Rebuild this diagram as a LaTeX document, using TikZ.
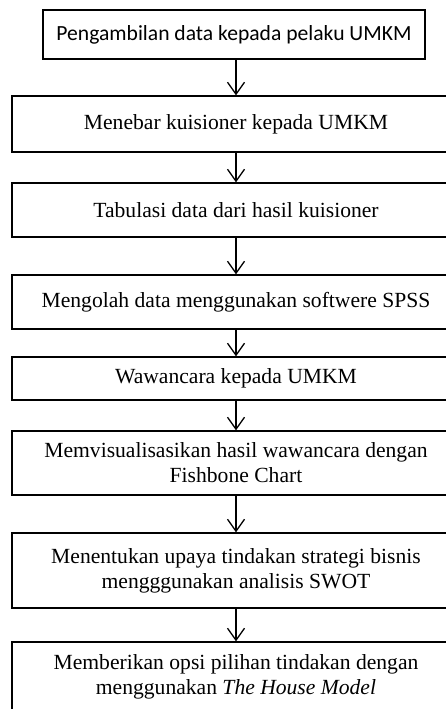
\documentclass[tikz,border=0pt]{standalone}
\usepackage{fontspec}
\setmainfont{Liberation Serif}
\newfontfamily\carlito{Carlito}
\usetikzlibrary{arrows.meta}
\begin{document}
\begin{tikzpicture}[x=1bp,y=-1bp,
  box/.style={draw, line width=1.3bp, inner sep=0pt, align=center, minimum width=448bp, font=\fontsize{21.6bp}{25bp}\selectfont},
  arr/.style={line width=1.3bp, -{Straight Barb[length=12bp,width=17bp,line width=1.3bp]}}]
\useasboundingbox (0,0) rectangle (446,709);
\clip (0,0) rectangle (446,709);
\node[box, minimum width=382bp, minimum height=49bp, font=\carlito\fontsize{21.6bp}{25bp}\selectfont] (b1) at (234,34.5) {Pengambilan data kepada pelaku UMKM};
\node[box, minimum height=56bp] (b2) at (236,124) {Menebar kuisioner kepada UMKM};
\node[box, minimum height=54bp] (b3) at (236,210) {Tabulasi data dari hasil kuisioner};
\node[box, minimum height=54bp] (b4) at (236,302) {Mengolah data menggunakan softwere SPSS};
\node[box, minimum height=43bp] (b5) at (236,378.5) {Wawancara kepada UMKM};
\node[box, minimum height=64bp] (b6) at (236,463) {Memvisualisasikan hasil wawancara dengan\\Fishbone Chart};
\node[box, minimum height=75bp] (b7) at (236,570.5) {Menentukan upaya tindakan strategi bisnis\\mengggunakan analisis SWOT};
\node[box, minimum height=70bp] (b8) at (236,677) {Memberikan opsi pilihan tindakan dengan\\menggunakan \textit{The House Model}};
\draw[arr] (b2.north |- b1.south) -- (b2.north);
\draw[arr] (b2.south) -- (b3.north);
\draw[arr] (b3.south) -- (b4.north);
\draw[arr] (b4.south) -- (b5.north);
\draw[arr] (b5.south) -- (b6.north);
\draw[arr] (b6.south) -- (b7.north);
\draw[arr] (b7.south) -- (b8.north);
\end{tikzpicture}
\end{document}
